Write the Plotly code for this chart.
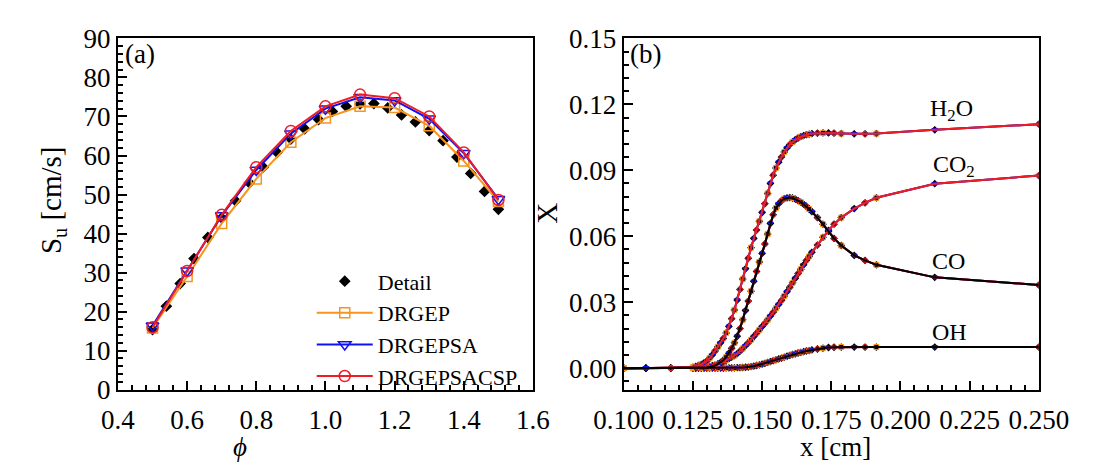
import plotly.graph_objects as go

# ---------------- Panel (a) data ----------------
phi = [0.5, 0.6, 0.7, 0.8, 0.9, 1.0, 1.1, 1.2, 1.3, 1.4, 1.5]
su_drgep = [15.8, 29.0, 42.6, 54.0, 63.4, 69.6, 72.6, 72.3, 67.6, 58.6, 48.2]
su_drgepsa = [16.4, 30.5, 44.6, 56.3, 65.6, 72.0, 74.9, 74.1, 69.4, 60.6, 48.8]
su_drgepsacsp = [16.0, 30.4, 44.8, 57.0, 66.3, 72.6, 75.6, 74.7, 70.0, 60.8, 48.6]

phi_detail = [0.50, 0.54, 0.58, 0.62, 0.66, 0.70, 0.74, 0.78, 0.82, 0.86, 0.90, 0.94, 0.98,
              1.02, 1.06, 1.10, 1.14, 1.18, 1.22, 1.26, 1.30, 1.34, 1.38, 1.42, 1.46, 1.50]
su_detail = [15.4, 21.4, 27.2, 33.6, 39.0, 44.0, 48.4, 53.0, 57.0, 60.8, 64.2, 66.8, 69.2,
             71.3, 72.6, 73.2, 73.3, 72.2, 70.4, 68.6, 66.4, 63.8, 59.6, 55.4, 50.8, 46.2]

# ---------------- Panel (b) data ----------------
x_cm = [0.100, 0.108, 0.117, 0.125,
        0.126, 0.127, 0.128, 0.129, 0.130, 0.131, 0.132, 0.133, 0.134, 0.135, 0.136,
        0.137, 0.138, 0.139, 0.140, 0.141, 0.142, 0.143, 0.144, 0.145, 0.146, 0.147,
        0.148, 0.149, 0.150, 0.151, 0.152, 0.153, 0.154, 0.155, 0.156, 0.157, 0.158,
        0.159, 0.160, 0.161, 0.162, 0.163, 0.164, 0.165, 0.166, 0.167, 0.168,
        0.170, 0.172, 0.174, 0.176,
        0.1786, 0.1833, 0.1872, 0.1913, 0.2124, 0.250]

X_H2O = [0.0000, 0.0000, 0.0001, 0.0005,
         0.0008, 0.0012, 0.0017, 0.0024, 0.0032, 0.0045, 0.0060, 0.0078, 0.0097, 0.0115, 0.0135,
         0.0160, 0.0190, 0.0225, 0.0265, 0.0310, 0.0358, 0.0405, 0.0452, 0.0500, 0.0548, 0.0590,
         0.0628, 0.0668, 0.0708, 0.0748, 0.0795, 0.0840, 0.0878, 0.0910, 0.0937, 0.0960, 0.0983,
         0.1002, 0.1017, 0.1029, 0.1039, 0.1047, 0.1053, 0.1058, 0.1062, 0.1065, 0.1067,
         0.1069, 0.1070, 0.1070, 0.1069,
         0.1067, 0.1066, 0.1066, 0.1067, 0.1084, 0.1110]

X_CO = [0.0000, 0.0000, 0.0000, 0.0000,
        0.0000, 0.0001, 0.0001, 0.0002, 0.0003, 0.0005, 0.0008, 0.0012, 0.0018, 0.0026, 0.0036,
        0.0050, 0.0068, 0.0090, 0.0115, 0.0145, 0.0180, 0.0220, 0.0262, 0.0305, 0.0350, 0.0395,
        0.0440, 0.0483, 0.0522, 0.0565, 0.0610, 0.0658, 0.0698, 0.0728, 0.0748, 0.0762, 0.0771,
        0.0775, 0.0776, 0.0774, 0.0769, 0.0762, 0.0755, 0.0746, 0.0736, 0.0724, 0.0712,
        0.0685, 0.0655, 0.0622, 0.0590,
        0.0558, 0.0513, 0.0490, 0.0470, 0.0413, 0.0378]

X_CO2 = [0.0000, 0.0000, 0.0000, 0.0001,
         0.0001, 0.0002, 0.0003, 0.0004, 0.0006, 0.0008, 0.0011, 0.0014, 0.0018, 0.0023, 0.0029,
         0.0036, 0.0043, 0.0050, 0.0057, 0.0066, 0.0077, 0.0089, 0.0102, 0.0115, 0.0129, 0.0144,
         0.0159, 0.0174, 0.0189, 0.0204, 0.0220, 0.0237, 0.0254, 0.0272, 0.0290, 0.0308, 0.0328,
         0.0348, 0.0368, 0.0388, 0.0409, 0.0430, 0.0450, 0.0470, 0.0490, 0.0508, 0.0527,
         0.0560, 0.0595, 0.0627, 0.0655,
         0.0685, 0.0726, 0.0752, 0.0775, 0.0839, 0.0876]

X_OH = [0.0000, 0.0000, 0.0000, 0.0000,
        0.0000, 0.0000, 0.0000, 0.0000, 0.0000, 0.0000, 0.0000, 0.0000, 0.0000, 0.0000, 0.0000,
        0.0001, 0.0001, 0.0001, 0.0001, 0.0002, 0.0002, 0.0003, 0.0004, 0.0005, 0.0007, 0.0009,
        0.0012, 0.0015, 0.0018, 0.0022, 0.0026, 0.0030, 0.0034, 0.0038, 0.0042, 0.0046, 0.0050,
        0.0054, 0.0058, 0.0062, 0.0065, 0.0069, 0.0072, 0.0075, 0.0078, 0.0080, 0.0083,
        0.0087, 0.0091, 0.0094, 0.0095,
        0.0096, 0.0096, 0.0096, 0.0096, 0.0096, 0.0096]

species_labels = ["H<sub>2</sub>O", "CO<sub>2</sub>", "CO", "OH"]
mech_names = ["Detail", "DRGEP", "DRGEPSA", "DRGEPSACSP"]

# ---------------- styling ----------------
W, H = 1100, 474
FONT = "Liberation Serif"
C_DET = "black"
C_DRGEP = "#F7941D"
C_SA = "#1010F0"
C_CSP = "#EE1C25"


def px(x):
    return x / W


def py(y):
    return 1 - y / H


fig = go.Figure()

# ----- panel (a) -----
fig.add_trace(go.Scatter(x=phi_detail, y=su_detail, mode="markers", name=mech_names[0],
                         marker=dict(symbol="diamond", size=9, color=C_DET),
                         xaxis="x", yaxis="y"))
fig.add_trace(go.Scatter(x=phi, y=su_drgep, mode="lines+markers", name=mech_names[1],
                         line=dict(color=C_DRGEP, width=2),
                         marker=dict(symbol="square-open", size=10, color=C_DRGEP, line=dict(width=1.5)),
                         xaxis="x", yaxis="y"))
fig.add_trace(go.Scatter(x=phi, y=su_drgepsa, mode="lines+markers", name=mech_names[2],
                         line=dict(color=C_SA, width=2),
                         marker=dict(symbol="triangle-down-open", size=11, color=C_SA, line=dict(width=1.5)),
                         xaxis="x", yaxis="y"))
fig.add_trace(go.Scatter(x=phi, y=su_drgepsacsp, mode="lines+markers", name=mech_names[3],
                         line=dict(color=C_CSP, width=2),
                         marker=dict(symbol="circle-open", size=11, color=C_CSP, line=dict(width=1.5)),
                         xaxis="x", yaxis="y"))

# ----- panel (b) -----
profiles = [X_H2O, X_CO2, X_CO, X_OH]
for prof in profiles:
    fig.add_trace(go.Scatter(x=x_cm, y=prof, mode="markers", showlegend=False,
                             marker=dict(symbol="diamond", size=6, color=C_DET),
                             xaxis="x2", yaxis="y2", hoverinfo="skip"))

mech_styles = [(C_DRGEP, "square-open", 0), (C_SA, "triangle-down-open", 1), (C_CSP, "circle-open", 2)]
for color, sym, off in mech_styles:
    for prof in profiles:
        fig.add_trace(go.Scatter(x=x_cm, y=prof, mode="lines", showlegend=False,
                                 line=dict(color=color, width=2),
                                 xaxis="x2", yaxis="y2", hoverinfo="skip"))
        fig.add_trace(go.Scatter(x=x_cm[off::3], y=prof[off::3], mode="markers", showlegend=False,
                                 marker=dict(symbol=sym, size=5, color=color, line=dict(width=1)),
                                 xaxis="x2", yaxis="y2", hoverinfo="skip"))

# detailed profiles of CO and OH drawn on top as black lines
for prof in [X_CO, X_OH]:
    fig.add_trace(go.Scatter(x=x_cm, y=prof, mode="lines", showlegend=False,
                             line=dict(color=C_DET, width=2),
                             xaxis="x2", yaxis="y2", hoverinfo="skip"))

tickfont = dict(family=FONT, size=27, color="black")
axis_common = dict(showline=True, linecolor="black", linewidth=2, mirror=True,
                   ticks="inside", ticklen=9, tickwidth=2, tickcolor="black",
                   showgrid=False, zeroline=False, tickfont=tickfont)

y_dom = [py(400), py(25)]
minor_style = dict(ticks="inside", ticklen=5, tickwidth=1.5, tickcolor="black")

fig.update_layout(
    width=W, height=H,
    margin=dict(l=0, r=0, t=0, b=0),
    paper_bgcolor="white", plot_bgcolor="white",
    font=dict(family=FONT, color="black"),
    xaxis=dict(domain=[px(93), px(532)], range=[0.4, 1.6], dtick=0.2, tick0=0.4,
               tickformat=".1f", anchor="y", ticklabelstandoff=5,
               minor=dict(dtick=0.04, **minor_style), **axis_common),
    yaxis=dict(domain=y_dom, range=[0, 90], dtick=10, tick0=0, anchor="x",
               minor=dict(dtick=2, **minor_style), **axis_common),
    xaxis2=dict(domain=[px(628), px(1067)], range=[0.1, 0.25], dtick=0.025, tick0=0.1,
                tickformat=".3f", anchor="y2", ticklabelstandoff=5,
                minor=dict(dtick=0.005, **minor_style), **axis_common),
    yaxis2=dict(domain=y_dom, range=[-0.0098, 0.15], dtick=0.03, tick0=0, anchor="x2",
                tickformat=".2f",
                minor=dict(dtick=0.006, **minor_style), **axis_common),
    legend=dict(x=px(298), y=py(262), xanchor="left", yanchor="top",
                bgcolor="rgba(0,0,0,0)", font=dict(family=FONT, size=22, color="black"),
                itemwidth=56, tracegroupgap=0),
    showlegend=True,
)

ann_font = dict(family=FONT, size=27, color="black")
title_font = dict(family=FONT, size=29, color="black")
lab_font = dict(family=FONT, size=24, color="black")
annotations = [
    dict(x=px(116), y=py(42), text="(a)", font=ann_font),
    dict(x=px(651), y=py(42), text="(b)", font=ann_font),
    dict(x=px(975), y=py(101), text=species_labels[0], font=lab_font),
    dict(x=px(977), y=py(161), text=species_labels[1], font=lab_font),
    dict(x=px(971), y=py(263), text=species_labels[2], font=lab_font),
    dict(x=px(973), y=py(338), text=species_labels[3], font=lab_font),
    dict(x=px(25), y=py(198), text="S<sub>u</sub> [cm/s]", textangle=-90, font=title_font),
    dict(x=px(546), y=py(212), text="X", textangle=-90, font=title_font),
    dict(x=px(222), y=py(461), text="<i>ϕ</i>", font=ann_font),
    dict(x=px(852), y=py(461), text="x [cm]", font=ann_font),
]
for a in annotations:
    fig.add_annotation(xref="paper", yref="paper", showarrow=False,
                       xanchor="center", yanchor="middle", **a)

fig.write_html("out.html")
